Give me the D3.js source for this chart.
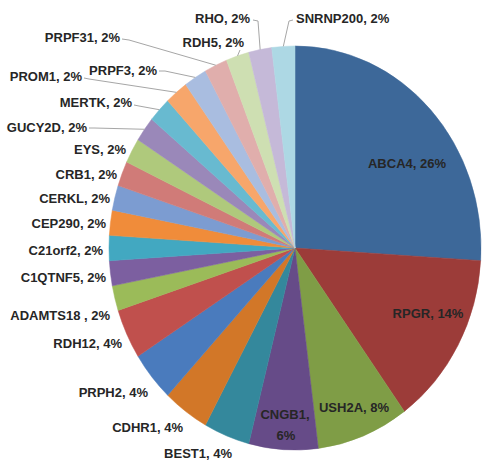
<!DOCTYPE html>
<html>
<head>
<meta charset="utf-8">
<script src="https://cdn.jsdelivr.net/npm/d3@7"></script>
<style>
  html, body { margin: 0; padding: 0; background: #fff; }
  svg text { font-family: "Liberation Sans", Arial, sans-serif; font-weight: bold; font-size: 13px; fill: #262626; }
</style>
</head>
<body>
<svg id="chart" width="482" height="465"></svg>
<script>
// Gene shares (%) in clockwise order from 12 o'clock
const genes = ["ABCA4", "RPGR", "USH2A", "CNGB1", "BEST1", "CDHR1", "PRPH2", "RDH12",
  "ADAMTS18 ", "C1QTNF5", "C21orf2", "CEP290", "CERKL", "CRB1", "EYS", "GUCY2D",
  "MERTK", "PROM1", "PRPF3", "PRPF31", "RDH5", "RHO", "SNRNP200"];
const shares = [26, 14, 8, 6, 4, 4, 4, 4, 2, 2, 2, 2, 2, 2, 2, 2, 2, 2, 2, 2, 2, 2, 2];

const sliceColors = ["#3d6899", "#9c3c39", "#7f9d46", "#664b88", "#34889c", "#d27728",
  "#4a7bbd", "#c0504d", "#9bbb59", "#7c5fa0", "#42a8c1", "#f08c3a",
  "#7c9cd1", "#d07b78", "#afc97c", "#9a88b9", "#68bad0", "#f7a66b",
  "#a9bde0", "#e0aeac", "#cedfb2", "#c5b9d8", "#add8e4"];

// Label placement: [x, baseline y, anchor]; leader = [start, elbow] for callout lines
const labelLayout = {
  "ABCA4":     { x: 407, y: 168, anchor: "middle" },
  "RPGR":      { x: 428, y: 318, anchor: "middle" },
  "USH2A":     { x: 354, y: 412, anchor: "middle" },
  "CNGB1":     { x: 285, y: 419, anchor: "middle", split: true },
  "BEST1":     { x: 232, y: 458, anchor: "end" },
  "CDHR1":     { x: 183, y: 432, anchor: "end" },
  "PRPH2":     { x: 148, y: 397, anchor: "end" },
  "RDH12":     { x: 122, y: 348, anchor: "end" },
  "ADAMTS18 ": { x: 110, y: 320, anchor: "end" },
  "C1QTNF5":   { x: 106, y: 282, anchor: "end" },
  "C21orf2":   { x: 103, y: 255, anchor: "end" },
  "CEP290":    { x: 106, y: 228, anchor: "end" },
  "CERKL":     { x: 110, y: 203, anchor: "end" },
  "CRB1":      { x: 117, y: 179, anchor: "end" },
  "EYS":       { x: 126, y: 154, anchor: "end" },
  "GUCY2D":    { x: 87,  y: 132, anchor: "end", leader: [[89, 128], [94, 128]] },
  "MERTK":     { x: 132, y: 107, anchor: "end", leader: [[134, 105], [139, 106]] },
  "PROM1":     { x: 82,  y: 81,  anchor: "end", leader: [[84, 78], [89, 79]] },
  "PRPF3":     { x: 157, y: 75,  anchor: "end", leader: [[159, 71], [165, 71]] },
  "PRPF31":    { x: 120, y: 42,  anchor: "end", leader: [[122, 39], [129, 40]] },
  "RDH5":      { x: 244, y: 47,  anchor: "end", leader: [[240, 50], [240, 50]] },
  "RHO":       { x: 250, y: 23,  anchor: "end", leader: [[253, 20], [258, 21]] },
  "SNRNP200":  { x: 296, y: 23,  anchor: "start", leader: [[293, 20], [289, 21]] }
};

const data = genes.map((g, i) => ({ gene: g, share: shares[i], color: sliceColors[i] }));

const svg = d3.select("#chart");
const cx = 295, cy = 248;
const radius = 186;
const ky = 202 / 186;   // vertical stretch of the pie

const pie = d3.pie().sort(null).value(d => d.share);
const arcs = pie(data);
const arc = d3.arc().innerRadius(0).outerRadius(radius);
const edgeArc = d3.arc().innerRadius(radius).outerRadius(radius);

const slices = svg.append("g")
  .attr("transform", `translate(${cx},${cy}) scale(1,${ky})`);

slices.selectAll("path")
  .data(arcs)
  .join("path")
  .attr("d", arc)
  .attr("fill", d => d.data.color)
  .attr("stroke", d => d.data.color)
  .attr("stroke-width", 0.5);

// Leader lines from labels to slice edges
const leaders = svg.append("g")
  .attr("fill", "none")
  .attr("stroke", "#a6a6a6")
  .attr("stroke-width", 1);

arcs.forEach(a => {
  const lay = labelLayout[a.data.gene];
  if (!lay.leader) return;
  const [ex, ey] = edgeArc.centroid(a);
  const pts = [lay.leader[0], lay.leader[1], [cx + ex, cy + ey * ky]];
  leaders.append("path").attr("d", d3.line()(pts));
});

// Data labels
const labels = svg.append("g");
arcs.forEach(a => {
  const lay = labelLayout[a.data.gene];
  const t = labels.append("text")
    .attr("x", lay.x)
    .attr("y", lay.y)
    .attr("text-anchor", lay.anchor);
  if (lay.split) {
    t.append("tspan").attr("x", lay.x).text(`${a.data.gene},`);
    t.append("tspan").attr("x", lay.x + 1).attr("dy", 21).text(`${a.data.share}%`);
  } else {
    t.text(`${a.data.gene}, ${a.data.share}%`);
  }
});
</script>
</body>
</html>
